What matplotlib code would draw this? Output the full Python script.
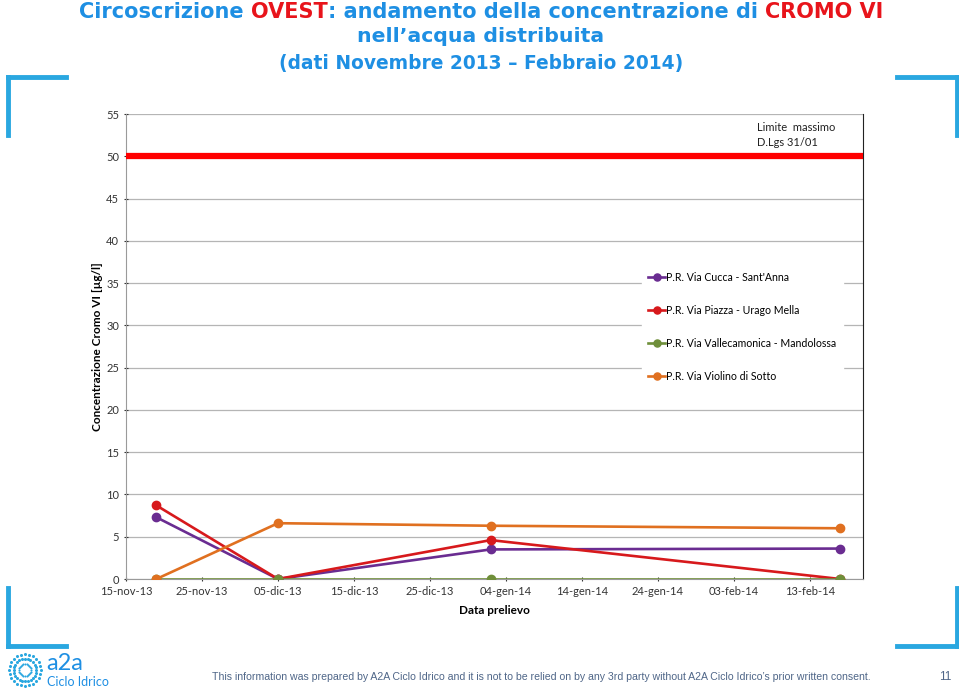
import numpy as np
import pandas as pd
import matplotlib
matplotlib.use("Agg")
import matplotlib.pyplot as plt
from matplotlib.lines import Line2D

# Dati
date_prelievo = ["2013-11-19", "2013-12-05", "2014-01-02", "2014-02-17"]
serie_nomi = ["P.R. Via Cucca - Sant'Anna",
              "P.R. Via Piazza - Urago Mella",
              "P.R. Via Vallecamonica - Mandolossa",
              "P.R. Via Violino di Sotto"]
cucca = [7.3, 0.0, 3.5, 3.6]
piazza = [8.7, 0.0, 4.6, 0.0]
vallecamonica = [0.0, 0.0, 0.0, 0.0]
violino = [0.0, 6.6, 6.3, 6.0]
colori = ["#6a2c91", "#d7191c", "#6f8f3a", "#e07020"]

limite = 50
tick_date = ["2013-11-15", "2013-11-25", "2013-12-05", "2013-12-15", "2013-12-25",
             "2014-01-04", "2014-01-14", "2014-01-24", "2014-02-03", "2014-02-13"]
tick_label = ["15-nov-13", "25-nov-13", "05-dic-13", "15-dic-13", "25-dic-13",
              "04-gen-14", "14-gen-14", "24-gen-14", "03-feb-14", "13-feb-14"]

BLU = "#1e8fe3"
ROSSO = "#e8141b"
CORNICE = "#2aa7e0"

fig = plt.figure(figsize=(9.59, 6.92), dpi=100)
W, H = 959, 692

ax = fig.add_axes([126 / W, 1 - 579 / H, (863 - 126) / W, (579 - 114) / H])

x = pd.to_datetime(date_prelievo)
for nome, valori, c in zip(serie_nomi, [cucca, piazza, vallecamonica, violino], colori):
    ax.plot(x, valori, color=c, lw=1.9, marker="o", ms=6, mfc=c, mec=c, label=nome, zorder=3)

ax.axhline(limite, color="#ff0000", lw=4.5, zorder=4)
ax.text(0.856, 0.983, "Limite  massimo\nD.Lgs 31/01", transform=ax.transAxes,
        fontsize=8, family="Lato", va="top", ha="left", linespacing=1.45, color="#222222")

ax.set_ylim(0, 55)
ax.set_yticks(np.arange(0, 56, 5))
ax.set_xlim(pd.Timestamp("2013-11-15"), pd.Timestamp("2014-02-20"))
ax.set_xticks(pd.to_datetime(tick_date))
ax.set_xticklabels(tick_label)
ax.grid(axis="y", color="#b5b5b5", lw=0.9)
ax.set_axisbelow(True)
ax.tick_params(labelsize=8, colors="#333333", length=3, direction="inout")
for lab in ax.get_xticklabels() + ax.get_yticklabels():
    lab.set_family("Lato")
for s in ["left", "bottom", "top"]:
    ax.spines[s].set_color("#9a9a9a")
ax.spines["right"].set_color("#222222")
ax.spines["top"].set_visible(False)

ax.set_ylabel("Concentrazione Cromo VI [µg/l]", fontsize=8.5, fontweight="bold", family="Lato", labelpad=2)
ax.set_xlabel("Data prelievo", fontsize=8.5, fontweight="bold", family="Lato", labelpad=6)

leg = ax.legend(loc="upper left", bbox_to_anchor=(0.693, 0.686), frameon=True, fancybox=False,
                edgecolor="white", facecolor="white", framealpha=1,
                labelspacing=2.1, handlelength=1.6, handletextpad=0.1, borderpad=0.6,
                markerscale=0.85, prop={"family": "Lato", "size": 7.6})
leg.set_zorder(5)

# Titolo con parti colorate
def riga(pezzi, y, size):
    r = fig.canvas.get_renderer()
    testi = []
    for t, c in pezzi:
        testi.append(fig.text(0, y, t, color=c, fontsize=size, fontweight="bold",
                              family="DejaVu Sans", va="center", ha="left"))
    larg = [tt.get_window_extent(r).width for tt in testi]
    x0 = (481 - sum(larg) / 2) / W
    for tt, w in zip(testi, larg):
        tt.set_x(x0)
        x0 += w / W

riga([("Circoscrizione ", BLU), ("OVEST", ROSSO),
      (": andamento della concentrazione di ", BLU), ("CROMO VI", ROSSO)], 1 - 12 / H, 15.0)
riga([("nell\u2019acqua distribuita", BLU)], 1 - 37 / H, 14.7)
riga([("(dati Novembre 2013 \u2013 Febbraio 2014)", BLU)], 1 - 63 / H, 13.4)

# Cornice azzurra agli angoli
def segmento(xs, ys):
    fig.add_artist(Line2D([v / W for v in xs], [1 - v / H for v in ys], color=CORNICE, lw=3.5))

segmento([8, 66], [77, 77]); segmento([8, 8], [77, 135])
segmento([897, 957], [77, 77]); segmento([957, 957], [77, 135])
segmento([8, 8], [588, 646]); segmento([8, 66], [646, 646])
segmento([957, 957], [588, 646]); segmento([897, 957], [646, 646])

# Logo e piè di pagina
ang = np.linspace(0, 2 * np.pi, 24, endpoint=False)
for a in ang:
    for rr in (6, 11, 16):
        fig.add_artist(Line2D([(25 + rr * np.cos(a)) / W], [1 - (670 + rr * np.sin(a)) / H],
                              marker="o", ms=2.2 if rr > 6 else 1.5, color=CORNICE, mec="none"))
fig.text(46 / W, 1 - 663 / H, "a2a", color=BLU, fontsize=17, family="Lato", va="center", ha="left")
fig.text(47 / W, 1 - 682 / H, "Ciclo Idrico", color=BLU, fontsize=9, family="Lato", va="center", ha="left")
fig.text(212 / W, 1 - 677 / H,
         "This information was prepared by A2A Ciclo Idrico and it is not to be relied on by any 3rd party "
         "without A2A Ciclo Idrico\u2019s prior written consent.",
         color="#4f6688", fontsize=7.6, family="Liberation Sans", va="center", ha="left")
fig.text(945 / W, 1 - 677 / H, "11", color="#4f6688", fontsize=8.5, family="Liberation Sans", va="center", ha="center")

fig.savefig("out.png", dpi=100)
